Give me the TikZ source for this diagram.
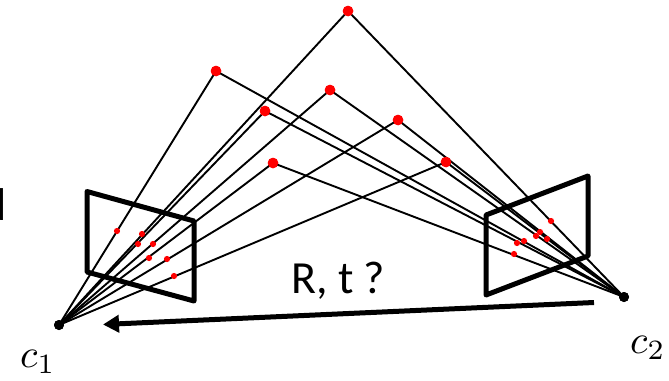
\documentclass[tikz,border=0pt]{standalone}
\usepackage{fontspec}
\setmainfont{Carlito}
\usepackage{graphicx}
\usetikzlibrary{arrows.meta}
\tikzset{
 x=1pt,y=-1pt,
 ray/.style={draw=black,line width=1.9pt},
 framebox/.style={draw=black,line width=5pt,line cap=round,line join=round},
 bigdot/.style={circle,fill=red,inner sep=0pt,minimum size=10.5pt},
 smalldot/.style={circle,fill=red,inner sep=0pt,minimum size=6.2pt},
 camdot/.style={circle,fill=black,inner sep=0pt,minimum size=10pt},
 lab/.style={inner sep=0pt,font=\fontsize{46}{46}\selectfont},
 motion/.style={draw=black,line width=5pt,-{Triangle[length=16pt,width=17pt]}},
}
\begin{document}
\begin{tikzpicture}
\useasboundingbox (0,0) rectangle (669,380);
\clip (0,0) rectangle (669,380);
\node[camdot] (c1) at (59,325) {};
\node[camdot] (c2) at (624,297) {};
\node[bigdot] (A) at (348,11) {};
\node[bigdot] (B) at (216,71) {};
\node[bigdot] (C) at (265,111) {};
\node[bigdot] (D) at (330,90) {};
\node[bigdot] (E) at (398,120) {};
\node[bigdot] (F) at (273,163) {};
\node[bigdot] (G) at (446,162) {};
\foreach \p in {A,B,C,D,E,F,G}{
  \draw[ray] (c1.center) -- (\p.center);
  \draw[ray] (c2.center) -- (\p.center);
}
\foreach \p in {A,B,C,D,E,F,G}{\node[bigdot] at (\p.center) {};}
\node[camdot] at (c1.center) {};
\node[camdot] at (c2.center) {};
\draw[framebox] (87,191.5) -- (194,221) -- (194,301) -- (87,272) -- cycle;
\draw[framebox] (486,215) -- (588,176) -- (588,256) -- (486,295) -- cycle;
\foreach \n/\x/\y in {l1/117/231,l2/142/234,l3/138/244,l4/153/244,l5/149/258,l6/167/259,l7/174/276,
 r1/551/221,r2/540/232,r3/536/236,r4/547/239,r5/524/241,r6/517/243,r7/514/254}
  \node[smalldot] (\n) at (\x,\y) {};
\coordinate (mstart) at (594,302.5);
\coordinate (mend) at (103,324.5);
\draw[motion] (mstart) -- (mend);
\node[lab,anchor=base west] (rt) at (291,293) {R, t ?};
\node[inner sep=0pt,anchor=base west] (cone) at (20,367) {\scalebox{4}{$c_1$}};
\node[inner sep=0pt,anchor=base west] (ctwo) at (630,353) {\scalebox{4}{$c_2$}};
\node[lab,anchor=base east] (frag) at (7,220) {d};
\end{tikzpicture}
\end{document}
